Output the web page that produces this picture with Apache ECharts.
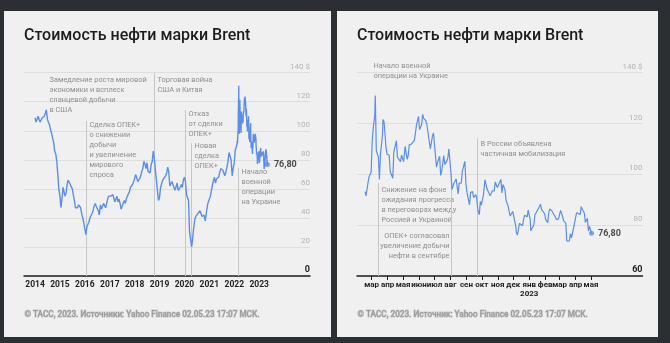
<!DOCTYPE html>
<html>
<head>
<meta charset="utf-8">
<script src="https://cdn.jsdelivr.net/npm/echarts@6/dist/echarts.min.js"></script>
<style>
  body { margin: 0; width: 670px; height: 343px; background: #2b2e33; position: relative; overflow: hidden; }
  .panel { position: absolute; top: 11px; height: 326px; background: #f0f0f0; }
</style>
</head>
<body>
<div id="left" class="panel" style="left:4px;width:327px"></div>
<div id="right" class="panel" style="left:337px;width:321px"></div>
<script>
// Brent, $ per barrel. Older years: two readings a month (1st and 16th)
const brent2014 = [109, 106, 108, 110, 108, 106, 107, 109, 109, 110, 112, 114.5, 108, 106, 104, 101, 98, 97, 92, 86, 84, 79, 70, 60];
const brent2015 = [55, 47, 54, 61, 60, 55, 57, 63, 66, 67, 63, 63, 60, 56, 52, 47, 48, 47, 49, 48, 47, 43, 42, 37];
const brent2016 = [36, 28.5, 34, 33, 37, 40, 39, 43, 45, 48, 50, 48, 48, 45, 42, 49, 46, 46, 50, 51, 47, 46, 53, 55];
const brent2017 = [56, 55, 56, 56, 55, 51, 53, 55, 51, 53, 50, 46, 48, 49, 52, 50, 53, 55, 56, 58, 61, 62, 63, 64];
const brent2018 = [67, 70, 69, 65, 64, 67, 69, 72, 74, 79, 77, 74, 78, 72, 73, 71, 77, 79, 86, 81, 73, 66, 59, 52];
const brent2019 = [54, 61, 62, 66, 65, 67, 69, 71, 75, 72, 62, 62, 65, 64, 61, 59, 59, 64, 59, 59, 61, 63, 61, 66];
const brent2020 = [68, 65, 56, 57, 52, 30, 25, 20, 26, 33, 39, 41, 42, 43, 44, 45, 45, 41, 41, 42, 38, 43, 48, 51];
const brent2021 = [51, 55, 56, 63, 64, 68, 64, 67, 67, 68, 71, 74, 75, 73, 72, 69, 72, 75, 79, 85, 84, 80, 69, 74];
const brent2022Start = [['2022-01-01', 78], ['2022-01-16', 87], ['2022-02-01', 89], ['2022-02-10', 91]];

// since the middle of February 2022
const recentBrent = [
  ['2022-02-16', 93.2], ['2022-02-18', 91.5], ['2022-02-22', 96.8], ['2022-02-24', 99.1], ['2022-02-28', 100.9],
  ['2022-03-02', 112.9], ['2022-03-04', 118.1], ['2022-03-07', 123.2], ['2022-03-08', 131], ['2022-03-10', 109.3],
  ['2022-03-14', 106.9], ['2022-03-16', 98.0], ['2022-03-18', 107.9], ['2022-03-22', 115.5], ['2022-03-23', 121.6],
  ['2022-03-25', 120.6], ['2022-03-29', 110.2], ['2022-03-31', 107.9], ['2022-04-04', 107.5], ['2022-04-06', 101.1],
  ['2022-04-11', 98.5], ['2022-04-13', 108.8], ['2022-04-18', 113.2], ['2022-04-20', 106.8], ['2022-04-22', 106.7],
  ['2022-04-26', 105.0], ['2022-04-28', 107.6], ['2022-05-02', 105.0], ['2022-05-05', 111.0], ['2022-05-09', 105.9],
  ['2022-05-11', 107.5], ['2022-05-13', 111.6], ['2022-05-17', 111.9], ['2022-05-19', 112.0], ['2022-05-23', 113.4],
  ['2022-05-25', 114.0], ['2022-05-27', 119.4], ['2022-05-31', 122.8], ['2022-06-02', 117.6], ['2022-06-06', 119.5],
  ['2022-06-08', 123.6], ['2022-06-10', 122.0], ['2022-06-14', 121.2], ['2022-06-16', 119.8], ['2022-06-20', 114.1],
  ['2022-06-23', 110.0], ['2022-06-27', 115.1], ['2022-06-29', 116.3], ['2022-07-01', 111.6], ['2022-07-05', 102.8],
  ['2022-07-07', 104.7], ['2022-07-11', 107.1], ['2022-07-13', 99.6], ['2022-07-15', 101.2], ['2022-07-19', 107.4],
  ['2022-07-21', 103.9], ['2022-07-25', 105.2], ['2022-07-27', 106.6], ['2022-07-29', 110.0], ['2022-08-02', 100.5],
  ['2022-08-04', 94.1], ['2022-08-08', 96.6], ['2022-08-10', 97.4], ['2022-08-12', 98.2], ['2022-08-16', 92.3],
  ['2022-08-18', 96.6], ['2022-08-22', 96.5], ['2022-08-24', 101.2], ['2022-08-26', 100.9], ['2022-08-29', 105.1],
  ['2022-08-31', 96.5], ['2022-09-02', 93.0], ['2022-09-07', 88.0], ['2022-09-09', 92.8], ['2022-09-13', 93.2],
  ['2022-09-15', 90.8], ['2022-09-19', 92.0], ['2022-09-21', 90.8], ['2022-09-23', 86.2], ['2022-09-26', 84.1],
  ['2022-09-28', 89.3], ['2022-09-30', 87.9], ['2022-10-04', 91.8], ['2022-10-07', 97.9], ['2022-10-11', 94.3],
  ['2022-10-13', 94.6], ['2022-10-17', 91.6], ['2022-10-19', 92.4], ['2022-10-21', 93.5], ['2022-10-25', 93.5],
  ['2022-10-27', 97.0], ['2022-10-31', 94.8], ['2022-11-03', 94.7], ['2022-11-07', 98.0], ['2022-11-09', 92.7],
  ['2022-11-11', 96.0], ['2022-11-15', 93.9], ['2022-11-17', 89.8], ['2022-11-21', 87.5], ['2022-11-23', 85.4],
  ['2022-11-25', 83.6], ['2022-11-28', 83.2], ['2022-11-30', 85.4], ['2022-12-02', 85.6], ['2022-12-06', 79.4],
  ['2022-12-07', 77.2], ['2022-12-09', 76.1], ['2022-12-13', 80.7], ['2022-12-15', 81.2], ['2022-12-19', 79.8],
  ['2022-12-21', 82.2], ['2022-12-23', 83.9], ['2022-12-28', 83.3], ['2022-12-30', 85.9], ['2023-01-03', 82.1],
  ['2023-01-04', 77.8], ['2023-01-06', 78.6], ['2023-01-10', 80.1], ['2023-01-12', 84.0], ['2023-01-17', 85.9],
  ['2023-01-19', 86.2], ['2023-01-23', 88.2], ['2023-01-25', 86.1], ['2023-01-27', 86.7], ['2023-01-31', 84.5],
  ['2023-02-02', 82.2], ['2023-02-06', 81.0], ['2023-02-08', 85.1], ['2023-02-10', 86.4], ['2023-02-14', 85.6],
  ['2023-02-16', 85.1], ['2023-02-21', 83.1], ['2023-02-23', 82.2], ['2023-02-27', 82.5], ['2023-03-01', 84.3],
  ['2023-03-03', 85.8], ['2023-03-07', 83.3], ['2023-03-09', 81.6], ['2023-03-13', 80.8], ['2023-03-15', 73.7],
  ['2023-03-17', 73.0], ['2023-03-20', 73.8], ['2023-03-22', 76.7], ['2023-03-24', 75.0], ['2023-03-28', 78.7],
  ['2023-03-30', 79.3], ['2023-04-03', 84.9], ['2023-04-05', 85.0], ['2023-04-10', 84.2], ['2023-04-12', 87.3],
  ['2023-04-14', 86.3], ['2023-04-18', 84.8], ['2023-04-20', 81.1], ['2023-04-24', 82.7], ['2023-04-26', 77.7],
  ['2023-04-28', 79.5], ['2023-05-02', 76.8]
];

const yearTicks = ['2014-01-01', '2015-01-01', '2016-01-01', '2017-01-01', '2018-01-01',
  '2019-01-01', '2020-01-01', '2021-01-01', '2022-01-01', '2023-01-01'];
const monthTicks = ['2022-03-01', '2022-04-01', '2022-05-01', '2022-06-01', '2022-07-01', '2022-08-01',
  '2022-09-01', '2022-10-01', '2022-11-01', '2022-12-01', '2023-01-01', '2023-02-01', '2023-03-01',
  '2023-04-01', '2023-05-01'];
const monthNames = ['янв', 'фев', 'мар', 'апр', 'мая', 'июн', 'июл', 'авг', 'сен', 'окт', 'ноя', 'дек'];

const title = 'Стоимость нефти марки Brent';
const BLUE = '#5b8ee8';
const FONT = 'Roboto';

// events: date of the line, top of the line (px), text and where it goes
const leftNotes = [
  { date: '2014-06-10', top: 61.5, dx: 3, y: 64, lines: ['Замедление роста мировой', 'экономики и всплеск', 'сланцевой добычи', 'в США'] },
  { date: '2016-01-14', top: 110, dx: 3, y: 109, lines: ['Сделка ОПЕК+', 'о снижении', 'добычи', 'и увеличение', 'мирового', 'спроса'] },
  { date: '2018-10-07', top: 61.5, dx: 3, y: 64, lines: ['Торговая война', 'США и Китая'] },
  { date: '2020-01-13', top: 99, dx: 3, y: 98, lines: ['Отказ', 'от сделки', 'ОПЕК+'] },
  { date: '2020-04-10', top: 132, dx: 3, y: 130, lines: ['Новая', 'сделка', 'ОПЕК+'] },
  { date: '2022-02-26', top: 157, dx: 3, y: 156.5, lines: ['Начало', 'военной', 'операции', 'на Украине'] }
];
const rightNotes = [
  { date: '2022-02-24', top: 51, dx: 4, y: 50.5, lines: ['Начало военной', 'операции на Украине'] },
  { date: '2022-03-14', top: 172, dx: 3, y: 174, lines: ['Снижение на фоне', 'ожидания прогресса', 'в переговорах между', 'Россией и Украиной'] },
  { date: '2022-08-03', top: 172, dx: -2, y: 220.5, align: 'right', lines: ['ОПЕК+ согласовал', 'увеличение добычи', 'нефти в сентябре'] },
  { date: '2022-09-21', top: 127, dx: 3, y: 128, lines: ['В России объявлена', 'частичная мобилизация'] }
];

const ts = s => Date.parse(s.length === 10 ? s + 'T00:00:00Z' : s);
function pad(n) { return String(n).padStart(2, '0'); }

const history = [];
[[2014, brent2014], [2015, brent2015], [2016, brent2016], [2017, brent2017],
 [2018, brent2018], [2019, brent2019], [2020, brent2020], [2021, brent2021]].forEach(([y, arr]) => {
  arr.forEach((v, i) => history.push([y + '-' + pad(Math.floor(i / 2) + 1) + '-' + (i % 2 ? '16' : '01'), v]));
});
const toPoints = arr => arr.map(([d, v]) => [ts(d), v]);
const fullSeries = toPoints(history.concat(brent2022Start, recentBrent));
const recentSeries = toPoints(recentBrent);
const last = recentSeries[recentSeries.length - 1];

function makeOption(o) {
  return {
    animation: false,
    textStyle: { fontFamily: FONT },
    title: {
      text: title, left: 20, top: 16.5, padding: 0,
      textStyle: { fontFamily: FONT, fontSize: 16, fontWeight: 500, color: '#1c1c1c' }
    },
    grid: { left: 20, right: o.gridRight, top: 61.7, bottom: 61 },
    xAxis: {
      type: 'value', min: ts(o.xMin), max: ts(o.xMax), scale: true,
      axisLine: { lineStyle: { color: '#1e1e1e', width: 1.5 } },
      axisTick: o.ticks ? { show: true, customValues: o.ticks.map(ts), length: 4, lineStyle: { color: '#1e1e1e' } } : { show: false },
      splitLine: { show: false },
      axisLabel: {
        customValues: o.labels.map(ts), formatter: o.xFormat, margin: 4,
        showMinLabel: true, showMaxLabel: true, hideOverlap: false,
        color: '#1e1e1e', fontSize: o.xFontSize, fontWeight: 'bold', fontFamily: FONT, lineHeight: 9.5
      }
    },
    yAxis: {
      type: 'value', position: 'right', min: o.yMin, max: 140, interval: 20,
      axisLine: { show: false }, axisTick: { show: false },
      splitLine: { lineStyle: { color: '#dedede', width: 1 } },
      axisLabel: {
        inside: true, margin: 0, verticalAlign: 'bottom', padding: [0, 0, 2, 0],
        color: '#b3b3b3', fontSize: 8, fontFamily: FONT,
        formatter: v => v === 140 ? '140 $' : (v === o.yMin ? '{b|' + v + '}' : String(v)),
        rich: { b: { color: '#1e1e1e', fontWeight: 'bold', fontSize: 9, fontFamily: FONT } }
      }
    },
    series: [
      {
        type: 'line', data: o.data, showSymbol: false, z: 3,
        lineStyle: { color: BLUE, width: o.lineWidth }
      },
      {
        type: 'scatter', data: [last], symbolSize: 5, z: 4,
        itemStyle: { color: BLUE },
        label: {
          show: true, position: 'right', distance: 4,
          formatter: p => p.value[1].toFixed(2).replace('.', ','),
          color: '#1e1e1e', fontWeight: 'bold', fontSize: 9, fontFamily: FONT
        }
      }
    ],
    graphic: [{
      type: 'text', left: 20, top: 299,
      style: { text: o.source, fill: '#9b9b9b', fontSize: 8.2, fontFamily: FONT, fontWeight: 500 }
    }]
  };
}

function drawNotes(chart, notes, baseValue) {
  const els = [];
  notes.forEach(n => {
    const p = chart.convertToPixel({ gridIndex: 0 }, [ts(n.date), baseValue]);
    const x = Math.round(p[0]) + 0.5;
    els.push({
      type: 'line', z: 1, silent: true,
      shape: { x1: x, y1: n.top, x2: x, y2: p[1] },
      style: { stroke: '#c6c6c6', lineWidth: 1 }
    });
    els.push({
      type: 'text', z: 1, silent: true, x: x + n.dx, y: n.y,
      style: {
        text: n.lines.join('\n'), fill: '#8e8e8e', fontSize: 7.4, fontFamily: FONT,
        lineHeight: 10, align: n.align || 'left', verticalAlign: 'top'
      }
    });
  });
  chart.setOption({ graphic: els });
}

const left = echarts.init(document.getElementById('left'));
left.setOption(makeOption({
  gridRight: 21, xMin: '2013-07-23', xMax: '2025-01-16', yMin: 0,
  labels: yearTicks, ticks: null, xFontSize: 8.5, xFormat: v => String(new Date(v).getUTCFullYear()),
  data: fullSeries, lineWidth: 1.4,
  source: '© ТАСС, 2023. Источники: Yahoo Finance 02.05.23 17:07 МСК.'
}));
drawNotes(left, leftNotes, 0);

const right = echarts.init(document.getElementById('right'));
right.setOption(makeOption({
  gridRight: 15.5, xMin: '2022-01-31T12:00:00Z', xMax: '2023-08-09', yMin: 60,
  labels: monthTicks, ticks: monthTicks, xFontSize: 8,
  xFormat: v => {
    const d = new Date(v);
    return monthNames[d.getUTCMonth()] + (d.getUTCMonth() === 0 ? '\n' + d.getUTCFullYear() : '');
  },
  data: recentSeries, lineWidth: 1.2,
  source: '© ТАСС, 2023. Источник: Yahoo Finance 02.05.23 17:07 МСК.'
}));
drawNotes(right, rightNotes, 60);
</script>
</body>
</html>
